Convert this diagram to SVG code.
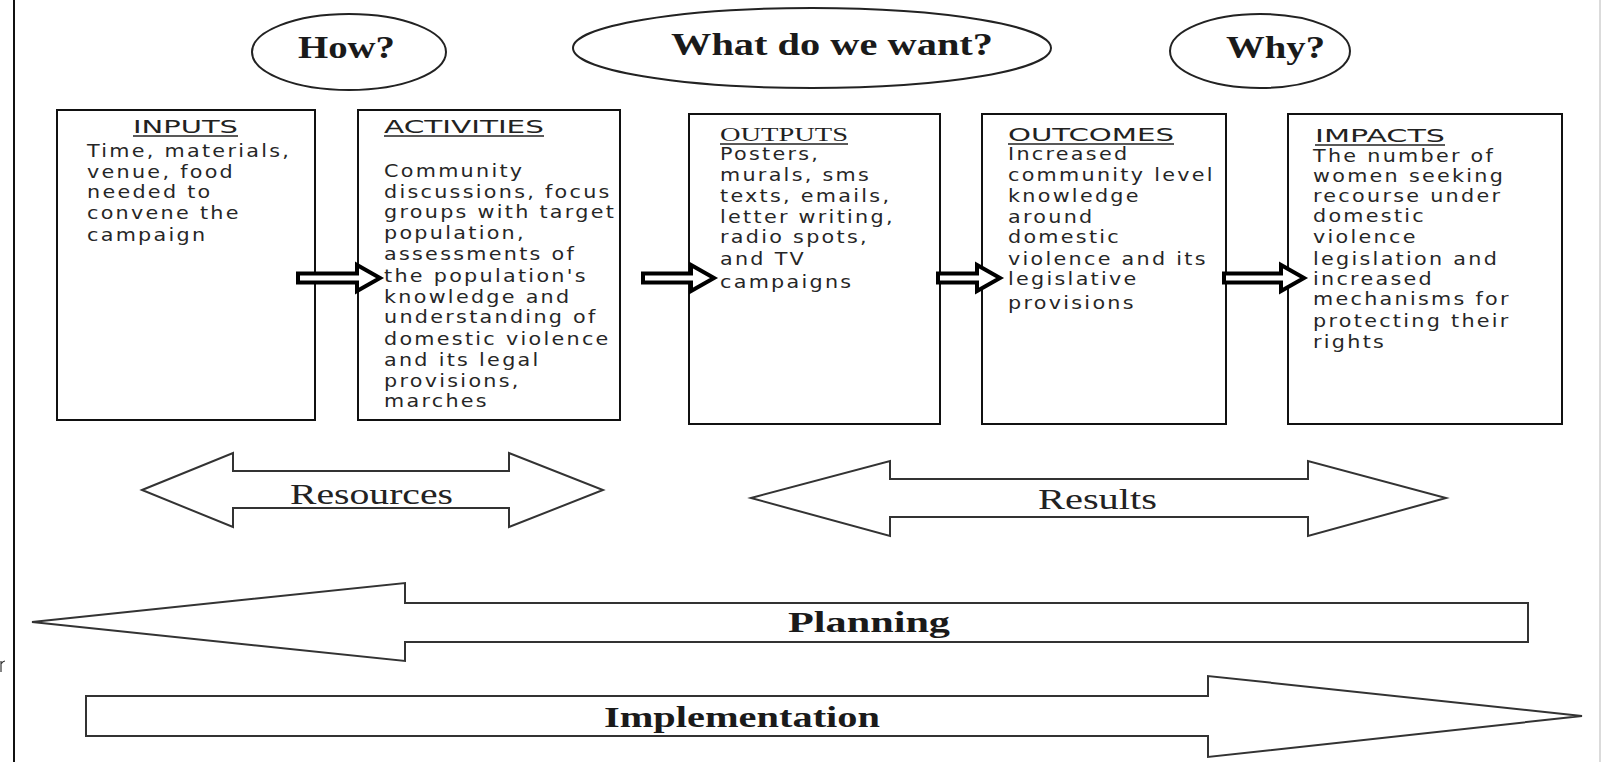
<svg xmlns="http://www.w3.org/2000/svg" width="1611" height="762" viewBox="0 0 1611 762">
<style>
.bg{fill:#ffffff}
.box{fill:#ffffff;stroke:#111;stroke-width:2}
.ell{fill:#ffffff;stroke:#222;stroke-width:2}
.blk{fill:#ffffff;stroke:#333;stroke-width:2;stroke-linejoin:miter}
.fat{fill:#ffffff;stroke:#000;stroke-width:4;stroke-linejoin:miter}
.q{font-family:"Liberation Serif","Times New Roman",serif;font-weight:bold;font-size:32px;fill:#1a1a1a}
.lbl{font-family:"Liberation Serif","Times New Roman",serif;font-size:30px;fill:#222}
.lblb{font-family:"Liberation Serif","Times New Roman",serif;font-weight:bold;font-size:29px;fill:#1a1a1a}
.hd{font-family:"DejaVu Sans","Liberation Sans",sans-serif;font-size:18px;fill:#222}
.hds{font-family:"Liberation Serif","Times New Roman",serif;font-size:19px;fill:#222}
.bt{font-family:"DejaVu Sans","Liberation Sans",sans-serif;font-size:18px;fill:#262626;letter-spacing:2px}
.ul{stroke:#222;stroke-width:1.3}
</style>
<rect class="bg" x="0" y="0" width="1611" height="762"/>
<line x1="14" y1="0" x2="14" y2="762" stroke="#111" stroke-width="2"/>
<line x1="1600" y1="0" x2="1600" y2="762" stroke="#cfcfcf" stroke-width="1.5"/>
<path d="M1,661 L1,672 M1,664 Q3,661 5,661" fill="none" stroke="#333" stroke-width="1.2"/>

<g id="how">
<ellipse class="ell" cx="349" cy="52" rx="97" ry="38"/>
<text class="q" x="298" y="58" textLength="97" lengthAdjust="spacingAndGlyphs">How?</text>
</g>
<g id="what">
<ellipse class="ell" cx="812" cy="48" rx="239" ry="40"/>
<text class="q" x="671" y="55" textLength="322" lengthAdjust="spacingAndGlyphs">What do we want?</text>
</g>
<g id="why">
<ellipse class="ell" cx="1260" cy="51" rx="90" ry="37"/>
<text class="q" x="1226" y="58" textLength="99" lengthAdjust="spacingAndGlyphs">Why?</text>
</g>

<g id="inputs">
<rect class="box" x="57" y="110" width="258" height="310"/>
<text class="hd" x="133" y="133" textLength="105" lengthAdjust="spacingAndGlyphs">INPUTS</text>
<line class="ul" x1="133" y1="136" x2="238" y2="136"/>
<g transform="translate(87,0) scale(1.15,1)">
<text class="bt"><tspan x="0" y="157">Time, materials,</tspan><tspan x="0" y="178">venue, food</tspan><tspan x="0" y="198">needed to</tspan><tspan x="0" y="219">convene the</tspan><tspan x="0" y="241">campaign</tspan></text>
</g>
</g>

<g id="activities">
<rect class="box" x="358" y="110" width="262" height="310"/>
<text class="hd" x="384" y="133" textLength="160" lengthAdjust="spacingAndGlyphs">ACTIVITIES</text>
<line class="ul" x1="384" y1="136" x2="544" y2="136"/>
<g transform="translate(384,0) scale(1.15,1)">
<text class="bt"><tspan x="0" y="177">Community</tspan><tspan x="0" y="198">discussions, focus</tspan><tspan x="0" y="218">groups with target</tspan><tspan x="0" y="239">population,</tspan><tspan x="0" y="260">assessments of</tspan><tspan x="0" y="282">the population's</tspan><tspan x="0" y="303">knowledge and</tspan><tspan x="0" y="323">understanding of</tspan><tspan x="0" y="345">domestic violence</tspan><tspan x="0" y="366">and its legal</tspan><tspan x="0" y="387">provisions,</tspan><tspan x="0" y="407">marches</tspan></text>
</g>
</g>

<g id="outputs">
<rect class="box" x="689" y="114" width="251" height="310"/>
<text class="hds" x="720" y="141" textLength="128" lengthAdjust="spacingAndGlyphs">OUTPUTS</text>
<line class="ul" x1="720" y1="144" x2="848" y2="144"/>
<g transform="translate(720,0) scale(1.15,1)">
<text class="bt"><tspan x="0" y="160">Posters,</tspan><tspan x="0" y="181">murals, sms</tspan><tspan x="0" y="202">texts, emails,</tspan><tspan x="0" y="223">letter writing,</tspan><tspan x="0" y="243">radio spots,</tspan><tspan x="0" y="265">and TV</tspan><tspan x="0" y="288">campaigns</tspan></text>
</g>
</g>

<g id="outcomes">
<rect class="box" x="982" y="114" width="244" height="310"/>
<text class="hd" x="1008" y="141" textLength="166" lengthAdjust="spacingAndGlyphs">OUTCOMES</text>
<line class="ul" x1="1008" y1="144" x2="1174" y2="144"/>
<g transform="translate(1008,0) scale(1.15,1)">
<text class="bt"><tspan x="0" y="160">Increased</tspan><tspan x="0" y="181">community level</tspan><tspan x="0" y="202">knowledge</tspan><tspan x="0" y="223">around</tspan><tspan x="0" y="243">domestic</tspan><tspan x="0" y="265">violence and its</tspan><tspan x="0" y="285">legislative</tspan><tspan x="0" y="309">provisions</tspan></text>
</g>
</g>

<g id="impacts">
<rect class="box" x="1288" y="114" width="274" height="310"/>
<text class="hd" x="1315" y="142" textLength="130" lengthAdjust="spacingAndGlyphs">IMPACTS</text>
<line class="ul" x1="1315" y1="145" x2="1445" y2="145"/>
<g transform="translate(1313,0) scale(1.15,1)">
<text class="bt"><tspan x="0" y="162">The number of</tspan><tspan x="0" y="182">women seeking</tspan><tspan x="0" y="202">recourse under</tspan><tspan x="0" y="222">domestic</tspan><tspan x="0" y="243">violence</tspan><tspan x="0" y="265">legislation  and</tspan><tspan x="0" y="285">increased</tspan><tspan x="0" y="305">mechanisms for</tspan><tspan x="0" y="327">protecting their</tspan><tspan x="0" y="348">rights</tspan></text>
</g>
</g>

<g id="connectors">
<polygon class="fat" points="298,273.5 357,273.5 357,265 380,278 357,291 357,282.5 298,282.5"/>
<polygon class="fat" points="643,273.5 691,273.5 691,265 714,278 691,291 691,282.5 643,282.5"/>
<polygon class="fat" points="938,273.5 977,273.5 977,265 1000,278 977,291 977,282.5 938,282.5"/>
<polygon class="fat" points="1224,273.5 1281,273.5 1281,265 1304,278 1281,291 1281,282.5 1224,282.5"/>
</g>

<g id="resources">
<polygon class="blk" points="142,490 233,453 233,471 509,471 509,453 603,490 509,527 509,508 233,508 233,527"/>
<text class="lbl" x="290" y="504" textLength="163" lengthAdjust="spacingAndGlyphs">Resources</text>
</g>
<g id="results">
<polygon class="blk" points="751,498 890,461 890,479 1308,479 1308,461 1446,498 1308,536 1308,517 890,517 890,536"/>
<text class="lbl" x="1038" y="509" textLength="119" lengthAdjust="spacingAndGlyphs">Results</text>
</g>
<g id="planning">
<polygon class="blk" points="32,622 405,583 405,603 1528,603 1528,642 405,642 405,661"/>
<text class="lblb" x="788" y="632" textLength="162" lengthAdjust="spacingAndGlyphs">Planning</text>
</g>
<g id="implementation">
<polygon class="blk" points="86,696 1208,696 1208,676 1582,716 1208,757 1208,736 86,736"/>
<text class="lblb" x="604" y="727" textLength="276" lengthAdjust="spacingAndGlyphs">Implementation</text>
</g>
</svg>
